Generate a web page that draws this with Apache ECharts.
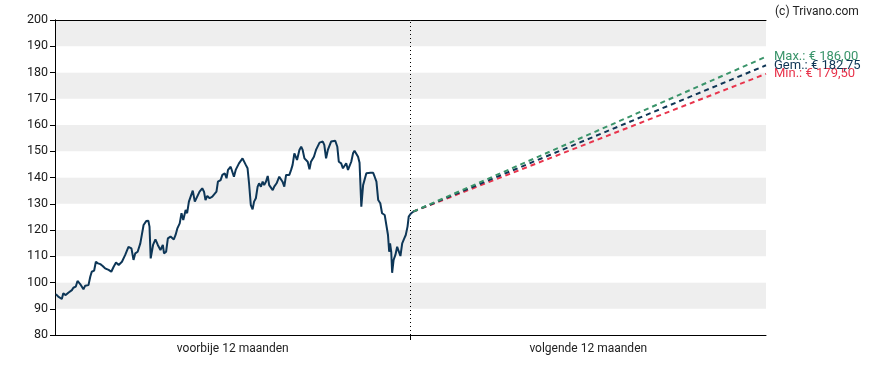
<!DOCTYPE html>
<html>
<head>
<meta charset="utf-8">
<script src="https://cdn.jsdelivr.net/npm/echarts@6/dist/echarts.min.js"></script>
<style>html,body{margin:0;padding:0;background:#fff}#c{width:888px;height:370px}</style>
</head>
<body>
<div id="c"></div>
<script>
// time in months (0..12 = past year), price in euro
var pastMonths = [0.03,0.11,0.17,0.23,0.28,0.36,0.45,0.57,0.62,0.70,0.76,0.85,0.96,1.02,1.13,1.19,1.24,1.32,1.38,1.45,1.53,1.60,1.69,1.81,1.90,1.98,2.06,2.15,2.26,2.37,2.48,2.58,2.65,2.71,2.79,2.88,2.99,3.08,3.15,3.19,3.23,3.31,3.39,3.47,3.56,3.64,3.68,3.75,3.81,3.90,4.01,4.07,4.13,4.21,4.27,4.33,4.41,4.46,4.52,4.58,4.65,4.72,4.80,4.88,4.97,5.03,5.08,5.14,5.22,5.31,5.37,5.45,5.50,5.59,5.65,5.73,5.79,5.84,5.93,6.04,6.10,6.16,6.21,6.27,6.33,6.38,6.44,6.50,6.55,6.61,6.67,6.72,6.78,6.84,6.89,6.95,7.01,7.06,7.12,7.18,7.23,7.29,7.35,7.40,7.48,7.57,7.63,7.68,7.74,7.80,7.85,7.91,7.97,8.02,8.08,8.14,8.17,8.25,8.31,8.36,8.42,8.47,8.53,8.59,8.64,8.74,8.81,8.87,8.93,8.98,9.04,9.09,9.15,9.21,9.26,9.32,9.38,9.46,9.53,9.58,9.66,9.72,9.77,9.83,9.89,9.94,10.00,10.06,10.11,10.17,10.23,10.28,10.34,10.40,10.45,10.51,10.57,10.65,10.74,10.79,10.85,10.91,10.98,11.04,11.13,11.19,11.24,11.28,11.31,11.35,11.38,11.43,11.49,11.55,11.60,11.66,11.72,11.79,11.84,11.90,11.94,12.00,12.09];
var pastPrices = [95.6,94.6,95.2,93.7,95.9,95.2,96.1,97.1,98.0,98.4,100.6,99.4,97.4,98.8,99.0,102.2,104.1,104.5,107.9,107.3,107.0,106.4,105.4,104.8,104.1,106.0,107.6,106.7,107.9,110.5,113.6,113.0,108.6,111.1,111.7,114.9,121.9,123.4,123.5,121.3,109.2,114.3,116.4,114.3,112.4,114.3,111.1,111.7,116.8,117.5,116.4,118.1,120.6,122.5,126.4,123.8,127.6,126.4,130.8,131.4,135.0,130.8,132.7,134.6,135.9,134.6,131.4,133.0,132.1,132.7,132.1,134.6,138.4,139.0,141.0,141.6,139.7,142.9,144.1,140.3,142.9,142.2,145.4,145.1,147.3,147.7,144.8,143.5,137.8,129.5,127.9,130.8,132.1,136.5,137.8,136.5,138.4,137.1,138.4,140.6,137.1,137.8,135.2,136.5,137.8,140.3,139.7,138.4,136.5,141.0,141.6,141.0,142.9,144.8,149.2,149.8,146.7,150.5,151.7,150.5,147.3,147.3,146.0,143.1,146.0,147.9,150.5,149.8,153.3,154.0,153.7,152.4,147.3,150.5,149.8,153.7,154.0,154.0,151.7,146.0,145.4,143.5,144.1,145.4,142.9,143.5,146.0,149.2,150.2,149.6,147.9,145.6,128.9,137.1,137.8,141.6,142.2,141.8,141.8,140.3,138.4,131.4,130.2,126.4,125.7,125.1,118.1,111.7,114.9,111.7,103.7,108.6,110.5,113.6,113.0,110.1,114.9,116.8,118.1,121.3,125.1,126.1,127.0];
var forecastEndMonth = 24;
var forecastNames = ['Max.', 'Gem.', 'Min.'];
var forecastTargets = [186.00, 182.75, 179.50];
var forecastColors = ['#3a946a', '#0f3555', '#e8344c'];
var xLabels = {6: 'voorbije 12 maanden', 18: 'volgende 12 maanden'};
var yMin = 80, yMax = 200, yStep = 10;

var pastData = pastMonths.map(function (m, i) { return [m, pastPrices[i]]; });
var startPt = pastData[pastData.length - 1];

var series = [{
  type: 'line',
  data: pastData,
  showSymbol: false,
  z: 5,
  lineStyle: { color: '#0d3657', width: 2 },
  markLine: {
    silent: true,
    symbol: 'none',
    label: { show: false },
    lineStyle: { color: '#000', type: [1, 3], width: 1 },
    data: [{ xAxis: 12 }]
  }
}];
forecastTargets.forEach(function (t, i) {
  series.push({
    type: 'line',
    data: [startPt, [forecastEndMonth, t]],
    showSymbol: false,
    z: 4 - i,
    lineStyle: { color: forecastColors[i], width: 2, type: [5, 4] },
    endLabel: {
      show: true,
      distance: 8,
      formatter: forecastNames[i] + ': € ' + t.toFixed(2).replace('.', ','),
      color: forecastColors[i],
      fontFamily: 'Roboto',
      fontSize: 13
    }
  });
});

var chart = echarts.init(document.getElementById('c'), null, { renderer: 'canvas' });
chart.setOption({
  animation: false,
  title: {
    text: '(c) Trivano.com',
    left: 770, top: 1,
    textStyle: { fontFamily: 'Roboto', fontSize: 12, fontWeight: 'normal', color: '#222' }
  },
  grid: { left: 55, right: 122, top: 20, bottom: 35 },
  xAxis: [{
    type: 'value', min: 0, max: 24,
    axisLine: { lineStyle: { color: '#000' } },
    axisTick: { show: true, length: 5, customValues: [12], lineStyle: { color: '#000' } },
    axisLabel: {
      customValues: [6, 18],
      formatter: function (v) { return xLabels[v] || ''; },
      fontFamily: 'Roboto', fontSize: 12, color: '#222', margin: 8
    },
    splitLine: { show: false }
  }, {
    type: 'value', min: 0, max: 24, position: 'top',
    axisLine: { show: true, lineStyle: { color: '#000' } },
    axisTick: { show: false }, axisLabel: { show: false }, splitLine: { show: false }
  }],
  yAxis: [{
    type: 'value', min: yMin, max: yMax, interval: yStep,
    axisLine: { show: true, lineStyle: { color: '#000' } },
    axisTick: { show: true, length: 5, lineStyle: { color: '#000' } },
    axisLabel: { fontFamily: 'Roboto', fontSize: 12.5, color: '#1a1a1a', margin: 7 },
    splitLine: { show: false },
    splitArea: { show: true, areaStyle: { color: ['#ffffff', '#eeeeee'] } }
  }, {
    type: 'value', min: yMin, max: yMax, position: 'right',
    axisLine: { show: true, lineStyle: { color: '#000' } },
    axisTick: { show: false }, axisLabel: { show: false }, splitLine: { show: false }
  }],
  series: series
});
</script>
</body>
</html>
